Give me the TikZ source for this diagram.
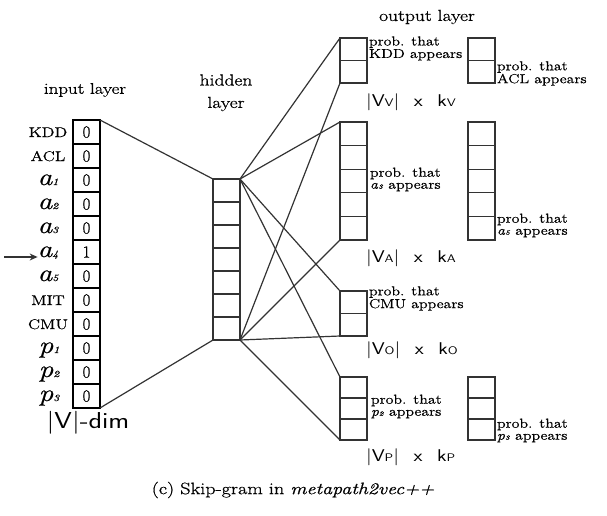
\documentclass[tikz,border=0pt]{standalone}
\usepackage{fontspec}
\setmainfont{Latin Modern Roman}[FakeBold=0.7]
\setsansfont{Latin Modern Sans}
\usepackage{graphicx}
\usetikzlibrary{arrows.meta,calc}
\newcommand{\hs}[1]{\scalebox{1.22}[1]{#1}}
\newcommand{\fs}[1]{\fontsize{#1}{#1}\selectfont}
\newcommand{\ilab}[2]{\hs{\fs{24}\itshape #1\fs{9.5}#2}}
\newcommand{\clab}[1]{\hs{\fs{14}#1}}
\newcommand{\problab}[1]{\hs{\fontsize{13}{12}\selectfont\begin{tabular}{@{}l@{}}prob. that\\#1 appears\end{tabular}}}
\newcommand{\smit}[2]{\textit{#1}{\fs{6.5}\textit{#2}}}
\newcommand{\dimlab}[1]{\hs{\sffamily\fs{17}|V{\fs{11}#1}|\hspace{0.7em}x\hspace{0.7em}k{\fs{11}#1}}}
\newcommand{\cellsep}[2]{\foreach \k in {#2} \draw[conn] ($(#1.north west)!\k!(#1.south west)$) -- ($(#1.north east)!\k!(#1.south east)$);}
\begin{document}
\begin{tikzpicture}[x=1pt,y=-1pt,
  cellin/.style={draw=black, line width=1.5pt, minimum width=27pt, minimum height=24pt, inner sep=0pt, outer sep=0pt},
  col/.style={draw=black!80, line width=1.2pt, minimum width=27pt, inner sep=0pt, outer sep=0pt},
  conn/.style={draw=black!80, line width=1.2pt},
  txt/.style={inner sep=0pt, outer sep=0pt},
  lbl/.style={inner sep=0pt, outer sep=0pt, anchor=base},
]
\useasboundingbox (0,0) rectangle (607,516);

% input layer
\foreach \i/\v in {0/0,1/0,2/0,3/0,4/0,5/1,6/0,7/0,8/0,9/0,10/0,11/0} {
  \node[cellin] (c\i) at (86.5, 132+24*\i) {};
  \node[txt, font=\fs{17}] (n\i) at (c\i) {\v};
}
\node[lbl] (l0) at (48,137) {\clab{KDD}};
\node[lbl] (l1) at (48,161) {\clab{ACL}};
\node[lbl] (l2) at (48,185) {\ilab{a}{1}};
\node[lbl] (l3) at (48,209) {\ilab{a}{2}};
\node[lbl] (l4) at (48,233) {\ilab{a}{3}};
\node[lbl] (l5) at (48,257) {\ilab{a}{4}};
\node[lbl] (l6) at (48,281) {\ilab{a}{5}};
\node[lbl] (l7) at (48,305) {\clab{MIT}};
\node[lbl] (l8) at (48,329) {\clab{CMU}};
\node[lbl] (l9) at (49,353) {\ilab{p}{1}};
\node[lbl] (l10) at (49,377) {\ilab{p}{2}};
\node[lbl] (l11) at (49,401) {\ilab{p}{3}};
\coordinate (arrt) at (4,257);
\draw[conn, line width=1.4pt, -{Stealth[length=8pt,width=7pt]}] (arrt) -- (arrt -| l5.west);

\node[txt, font=\fs{15.5}] (inl) at (85,90) {\hs{input layer}};
\node[txt] (vdim) at (88,423) {\hs{\sffamily\fs{23}|V|-dim}};

% hidden layer
\node[col, minimum height=161pt] (hid) at (226.5,259.5) {};
\cellsep{hid}{0.142857,0.285714,0.428571,0.571429,0.714286,0.857143}
\node[txt, font=\fs{16}] (hid1) at (226,80) {\hs{hidden}};
\node[txt, font=\fs{16}] (hid2) at (226,104) {\hs{layer}};

\draw[conn] (c0.north east) -- (hid.north west);
\draw[conn] (c11.south east) -- (hid.south west);

% output layer
\node[txt, font=\fs{16}] (outl) at (427,17) {\hs{output layer}};
\node[col, minimum height=45pt] (Vbox) at (353.5,60.5) {};
\node[col, minimum height=45pt] (Vbox2) at (481.5,60.5) {};
\cellsep{Vbox}{0.5}
\cellsep{Vbox2}{0.5}
\node[col, minimum height=118pt] (Abox) at (353.5,181) {};
\node[col, minimum height=118pt] (Abox2) at (481.5,181) {};
\cellsep{Abox}{0.2,0.4,0.6,0.8}
\cellsep{Abox2}{0.2,0.4,0.6,0.8}
\node[col, minimum height=45pt] (Obox) at (353.5,313.5) {};
\cellsep{Obox}{0.5}
\node[col, minimum height=63pt] (Pbox) at (353.5,408.5) {};
\node[col, minimum height=63pt] (Pbox2) at (481.5,408.5) {};
\cellsep{Pbox}{0.3333,0.6667}
\cellsep{Pbox2}{0.3333,0.6667}

\foreach \b in {Vbox,Abox,Obox,Pbox} {
  \draw[conn] (hid.north east) -- (\b.north west);
  \draw[conn] (hid.south east) -- (\b.south west);
}

\node[txt, anchor=west] (pk) at (369,49) {\problab{KDD}};
\node[txt, anchor=west] (pa) at (497,74) {\problab{ACL}};
\node[txt, anchor=west] (pa3) at (370,180) {\problab{\smit{a}{3}}};
\node[txt, anchor=west] (pa5) at (497,226) {\problab{\smit{a}{5}}};
\node[txt, anchor=west] (pc) at (369,299) {\problab{CMU}};
\node[txt, anchor=west] (pp2) at (371,407) {\problab{\smit{p}{2}}};
\node[txt, anchor=west] (pp3) at (497,431) {\problab{\smit{p}{3}}};

\node[txt, anchor=west] (dv) at (366,102) {\dimlab{V}};
\node[txt, anchor=west] (da) at (366,258) {\dimlab{A}};
\node[txt, anchor=west] (do) at (366,350) {\dimlab{O}};
\node[txt, anchor=west] (dp) at (366,457) {\dimlab{P}};

\node[txt, font=\fs{16.5}] (cap) at (293,490) {\hs{(c) Skip-gram in \textit{metapath2vec++}}};
\end{tikzpicture}
\end{document}
